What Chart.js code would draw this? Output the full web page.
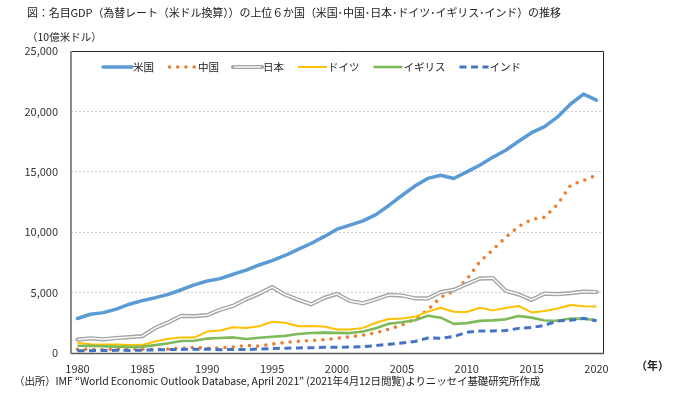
<!DOCTYPE html>
<html><head><meta charset="utf-8">
<script src="https://cdn.jsdelivr.net/npm/chart.js@4.4.1/dist/chart.umd.min.js"></script>
<style>
html,body{margin:0;padding:0;background:#fff;}
#wrap{position:relative;width:681px;height:394px;font-family:"Noto Sans CJK JP","Noto Sans",sans-serif;color:#222;overflow:hidden;}
canvas{position:absolute;left:0;top:0;}
.t{position:absolute;white-space:nowrap;line-height:1;}
</style></head><body>
<div id="wrap">
<canvas id="c" width="681" height="394"></canvas>
<div class="t" id="title" style="left:27px;top:7px;font-size:11px;letter-spacing:-0.1px;">図：名目GDP（為替レート（米ドル換算））の上位６か国（米国･中国･日本･ドイツ･イギリス･インド）の推移</div>
<div class="t" id="unit" style="left:27px;top:32px;font-size:10.5px;">（10億米ドル）</div>
<div class="t" id="nen" style="left:636px;top:360px;font-size:11px;font-weight:bold;">（年）</div>
<div class="t" id="src" style="left:14px;top:376px;font-size:10.5px;letter-spacing:-0.1px;">（出所）IMF “World Economic Outlook Database, April 2021” (2021年4月12日閲覧)よりニッセイ基礎研究所作成</div>
</div>
<script>
const years = [];
for (let y = 1980; y <= 2020; y++) years.push(String(y));
const seriesNames = ['米国','中国','日本','ドイツ','イギリス','インド'];
const usa = [2857,3207,3343,3634,4037,4339,4580,4855,5236,5642,5963,6158,6520,6859,7287,7640,8073,8578,9063,9631,10251,10582,10936,11458,12214,13037,13815,14452,14713,14449,14992,15543,16197,16785,17527,18238,18745,19543,20612,21433,20933];
const china = [303,294,285,306,313,310,301,327,408,457,395,416,495,621,566,736,867,965,1033,1097,1214,1344,1477,1671,1966,2309,2800,3573,4616,5122,6087,7552,8532,9570,10476,11062,11233,12310,13895,14280,14723];
const japan = [1105,1218,1134,1243,1318,1398,2078,2532,3072,3054,3133,3584,3909,4454,4907,5449,4833,4414,4033,4563,4888,4304,4116,4445,4815,4755,4530,4515,5038,5231,5700,6157,6203,5156,4850,4389,4923,4867,4955,5082,5049];
const germany = [854,718,699,703,657,673,950,1187,1285,1279,1772,1868,2131,2071,2206,2592,2504,2218,2244,2200,1950,1951,2079,2505,2815,2847,2994,3425,3745,3412,3397,3745,3528,3733,3890,3358,3469,3690,3977,3862,3843];
const uk = [604,587,557,524,496,527,649,800,993,1010,1193,1248,1290,1159,1258,1345,1420,1567,1653,1687,1665,1649,1785,2054,2422,2543,2709,3091,2923,2410,2475,2659,2704,2786,3064,2929,2695,2666,2861,2829,2708];
const india = [186,196,204,222,215,237,253,283,300,301,326,274,293,284,333,367,400,423,429,466,477,493,524,619,722,834,949,1238,1224,1365,1708,1823,1828,1857,2039,2104,2295,2653,2713,2869,2660];
const yTicks = [0,5000,10000,15000,20000,25000];
const xLabelYears = ['1980','1985','1990','1995','2000','2005','2010','2015','2020'];

const FONT = '"Noto Sans CJK JP","Noto Sans",sans-serif';
const base = {fill:false,pointRadius:0,pointHoverRadius:0,tension:0,borderJoinStyle:'round'};
const datasets = [
  Object.assign({},base,{label:seriesNames[0],data:usa,borderColor:'#5B9BD5',borderWidth:3.5,borderCapStyle:'round',order:6}),
  Object.assign({},base,{label:seriesNames[1],data:china,borderColor:'#ED7D31',borderWidth:3.6,borderDash:[0,8.2],borderCapStyle:'round',order:5}),
  Object.assign({},base,{label:seriesNames[2],data:japan,borderColor:'#A5A5A5',borderWidth:4.2,borderCapStyle:'round',order:4,inner:'#ffffff'}),
  Object.assign({},base,{label:seriesNames[2]+'_in',data:japan,borderColor:'#ffffff',borderWidth:1.4,order:3.5,noLegend:true}),
  Object.assign({},base,{label:seriesNames[3],data:germany,borderColor:'#FFC000',borderWidth:2,order:3}),
  Object.assign({},base,{label:seriesNames[4],data:uk,borderColor:'#7EB95A',borderWidth:2.6,order:2}),
  Object.assign({},base,{label:seriesNames[5],data:india,borderColor:'#4472C4',borderWidth:3,borderDash:[7,4.5],order:1})
];

const legendPlugin = {
  id:'inLegend',
  afterDraw(chart){
    const ctx = chart.ctx;
    const y = chart.chartArea.top + 16;
    let x = chart.chartArea.left + 32;
    ctx.save();
    ctx.font = '10.5px ' + FONT;
    ctx.textBaseline = 'middle';
    chart.data.datasets.forEach(ds => {
      if (ds.noLegend) return;
      const len = 29;
      ctx.beginPath();
      ctx.strokeStyle = ds.borderColor;
      ctx.lineWidth = ds.borderWidth;
      ctx.lineCap = ds.borderCapStyle || 'butt';
      ctx.setLineDash(ds.borderDash || []);
      ctx.moveTo(x + (ds.borderDash && ds.borderDash[0]===0 ? 1.5 : 0), y);
      ctx.lineTo(x + len, y);
      ctx.stroke();
      if (ds.inner) {
        ctx.beginPath(); ctx.setLineDash([]); ctx.lineCap='butt';
        ctx.strokeStyle = ds.inner; ctx.lineWidth = 1.4;
        ctx.moveTo(x+1, y); ctx.lineTo(x+len-1, y); ctx.stroke();
      }
      ctx.setLineDash([]);
      ctx.fillStyle = '#222';
      ctx.fillText(ds.label, x + len + 1, y);
      x += len + 1 + ctx.measureText(ds.label).width + 14;
    });
    ctx.restore();
  }
};

const borderPlugin = {
  id:'plotBorder',
  afterDatasetsDraw(chart){
    const {ctx, chartArea:a} = chart;
    ctx.save();
    ctx.strokeStyle = '#262626'; ctx.lineWidth = 1;
    ctx.beginPath();
    ctx.moveTo(a.left, a.top+0.5); ctx.lineTo(a.right+0.5, a.top+0.5); ctx.lineTo(a.right+0.5, a.bottom);
    ctx.stroke();
    ctx.strokeStyle = '#595959'; ctx.lineWidth = 1.5;
    ctx.beginPath(); ctx.moveTo(a.left, a.bottom+0.5); ctx.lineTo(a.right+1, a.bottom+0.5); ctx.stroke();
    ctx.strokeStyle = '#8C8C8C'; ctx.lineWidth = 2;
    ctx.beginPath(); ctx.moveTo(a.left, a.top); ctx.lineTo(a.left, a.bottom+1); ctx.stroke();
    ctx.restore();
  }
};

new Chart(document.getElementById('c'), {
  type:'line',
  data:{labels:years, datasets:datasets},
  options:{
    responsive:false, animation:false,
    events:[],
    layout:{padding:{top:51,right:78,bottom:0,left:0}},
    plugins:{legend:{display:false},tooltip:{enabled:false},title:{display:false}},
    scales:{
      x:{
        offset:true,
        grid:{display:false,drawTicks:false},
        border:{display:false},
        afterFit(s){ s.height = 41; },
        ticks:{autoSkip:false,maxRotation:0,padding:9,color:'#333',font:{family:FONT,size:11},
          callback(v){ const l = this.getLabelForValue(v); return xLabelYears.includes(l) ? l : ''; }}
      },
      y:{
        min:0,max:25000,
        afterBuildTicks(s){ s.ticks = yTicks.map(v=>({value:v})); },
        afterFit(s){ s.width = 71; },
        grid:{color:'#cfcfcf',lineWidth:1,drawTicks:false},
        border:{display:false,dash:[2,2]},
        ticks:{padding:13,color:'#333',font:{family:FONT,size:11},
          callback(v){ return Number(v).toLocaleString('en-US'); }}
      }
    }
  },
  plugins:[legendPlugin,borderPlugin]
});
</script>
</body></html>
